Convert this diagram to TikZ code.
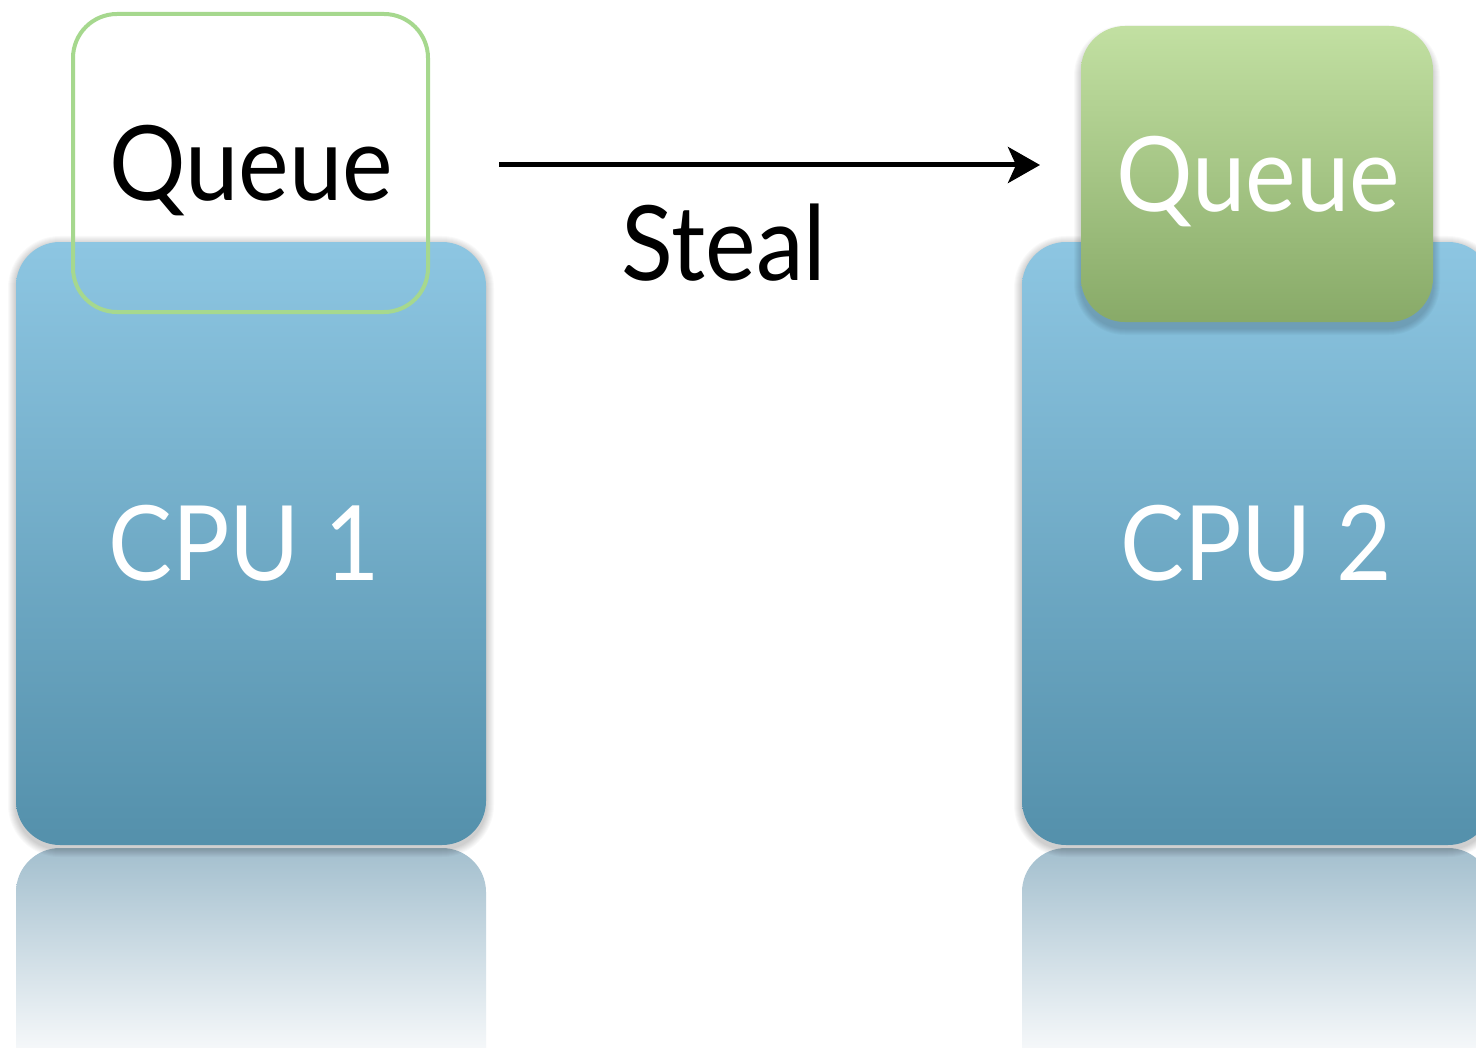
\documentclass[tikz,border=0pt]{standalone}
\usepackage{fontspec}
\newfontfamily\labelfont[FakeStretch=0.92]{Lato}
\usetikzlibrary{arrows.meta}

\definecolor{cputop}{HTML}{8DC6E2}
\definecolor{cpubot}{HTML}{5490AB}
\definecolor{qtop}{HTML}{C2E0A2}
\definecolor{qbot}{HTML}{88AA68}
\definecolor{qedge}{HTML}{A6D88E}
\definecolor{refltop}{HTML}{A3BFCE}
\definecolor{reflmid}{HTML}{DAE6EC}
\definecolor{reflbot}{HTML}{FAFBFC}

\tikzset{
  cpubox/.style={rounded corners=22pt, top color=cputop, bottom color=cpubot,
    minimum width=235pt, minimum height=301.5pt, inner sep=0pt},
  queueopen/.style={rounded corners=22pt, draw=qedge, line width=2pt,
    minimum width=177.5pt, minimum height=149pt, inner sep=0pt},
  queuefull/.style={rounded corners=22pt, top color=qtop, bottom color=qbot,
    minimum width=176pt, minimum height=148pt, inner sep=0pt},
  reflection/.style={top color=refltop, middle color=reflmid, bottom color=reflbot},
  softlayer/.style={fill=black, fill opacity=#1},
  bigtext/.style={font=\labelfont\fontsize{52}{60}\selectfont, inner sep=0pt, anchor=base},
  whitetext/.style={bigtext, text=white},
  steal/.style={line width=2.5pt, -{Stealth[length=16pt, width=18pt, inset=4pt]}},
}

% soft shadow: stacked translucent rounded rectangles
% #1 left, #2 top, #3 right, #4 bottom (px), #5 layers
\newcommand\softshadow[5]{%
  \foreach \i in {1,...,#5}{%
    \fill[softlayer=0.022, rounded corners=22pt+\i*0.5pt]
      (#1-\i,-#2+\i) rectangle (#3+\i,-#4-\i);
  }%
}

\begin{document}
\begin{tikzpicture}[x=0.5pt, y=0.5pt]
  \useasboundingbox (0,0) rectangle (1476,-1048);
  \clip (0,0) rectangle (1476,-1048);
  \fill[white] (0,0) rectangle (1476,-1048);

  % reflections under the two processors
  \shade[reflection] (16,-1060) -- (16,-892) arc[start angle=180, end angle=90, radius=44]
    -- (442,-848) arc[start angle=90, end angle=0, radius=44] -- (486,-1060) -- cycle;
  \shade[reflection] (1022,-1060) -- (1022,-892) arc[start angle=180, end angle=90, radius=44]
    -- (1448,-848) arc[start angle=90, end angle=0, radius=44] -- (1492,-1060) -- cycle;

  % processors
  \softshadow{16}{244}{486}{849}{8}
  \softshadow{1022}{244}{1492}{849}{8}
  \node[cpubox] (cpu1) at (251,-543.5) {};
  \node[cpubox] (cpu2) at (1257,-543.5) {};

  \node[whitetext] (cpu1label) at (244,-580) {CPU 1};
  \node[whitetext] (cpu2label) at (1256,-580) {CPU 2};

  % queues
  \node[queueopen] (q1) at (250.5,-163) {};
  \node[bigtext, text=black] (q1label) at (251,-201) {Queue};

  \softshadow{1081}{32}{1433}{328}{7}
  \node[queuefull] (q2) at (1257,-174) {};
  \node[whitetext] (q2label) at (1258,-212) {Queue};

  % stealing arrow
  \coordinate (from) at (499,-165);
  \coordinate (to) at (1040,-165);
  \draw[steal] (from) -- (to);
  \node[bigtext] (steallabel) at (724,-280) {Steal};
\end{tikzpicture}
\end{document}
